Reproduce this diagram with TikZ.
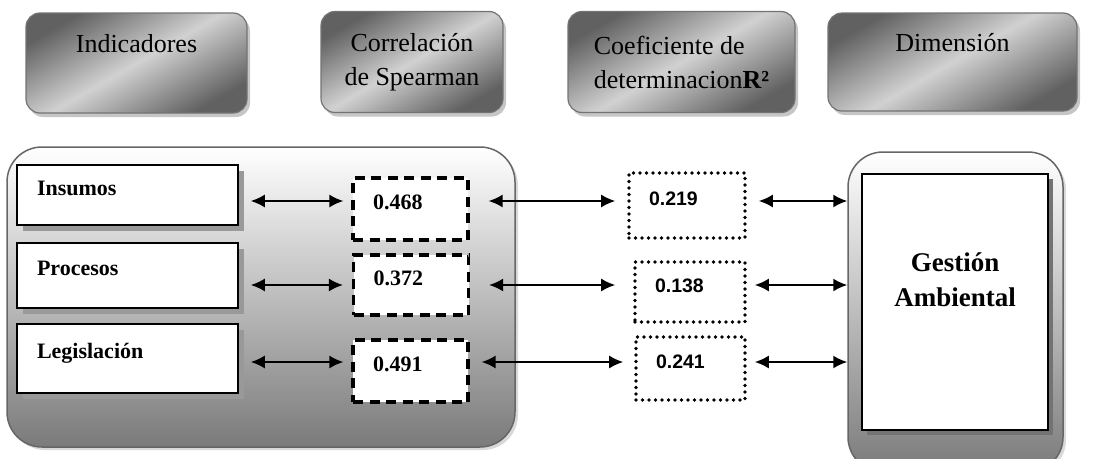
\documentclass[tikz,border=0pt]{standalone}
\usepackage{fontspec}
\setmainfont{Liberation Serif}
\newfontfamily\arialfont{Liberation Sans}
\usetikzlibrary{arrows.meta,shadows}

\begin{document}
\begin{tikzpicture}[x=1pt, y=-1pt,
		titulo/.style={draw=black!55, line width=1.2pt, rounded corners=14pt,
			top color=black!62, bottom color=black!62, middle color=black!18, shading angle=30,
			drop shadow={shadow xshift=3pt, shadow yshift=-4pt, opacity=.45},
			font=\fontsize{26}{34}\selectfont},
		marco/.style={draw=black!60, line width=1.5pt, rounded corners=35pt,
			top color=white, bottom color=black!52,
			drop shadow={shadow xshift=3pt, shadow yshift=-3pt, opacity=.3}},
		indicador/.style={draw, fill=white, line width=1.5pt, minimum width=221pt,
			text width=181pt, inner xsep=20pt, inner ysep=0pt, align=left,
			text height=15pt, text depth=15pt, font=\fontsize{22}{26}\selectfont\bfseries,
			drop shadow={shadow xshift=6pt, shadow yshift=-6pt, fill=black!40, opacity=1}},
		rho/.style={draw, fill=white, line width=3.2pt, dash pattern=on 10pt off 6.5pt,
			minimum width=115pt, text width=75pt, inner xsep=20pt, inner ysep=0pt, align=left,
			text height=15pt, text depth=15pt, font=\fontsize{22}{26}\selectfont\bfseries},
		rcuad/.style={draw, fill=white, line width=3.6pt, line cap=round, dash pattern=on 0pt off 6.5pt,
			inner xsep=20pt, inner ysep=0pt, align=left,
			text height=14pt, text depth=14pt, font=\arialfont\fontsize{19.5}{23}\selectfont\bfseries},
		flecha/.style={<->, >={Latex[length=14pt,width=13pt]}, line width=1.8pt}
	]
	\useasboundingbox (0,0) rectangle (1115,458);
	\clip (0,0) rectangle (1115,458);

	% encabezados
	\node[titulo, minimum width=221pt, minimum height=100pt, text height=20pt, text depth=42pt] (ind) at (136.5,63) {Indicadores};
	\node[titulo, minimum width=182pt, minimum height=101pt, align=center] (cor) at (412,62) {Correlación\\de Spearman};
	\node[titulo, minimum width=227pt, minimum height=101pt, align=left] (coe) at (681.5,62) {Coeficiente de\\determinacion\textbf{R²}};
	\node[titulo, minimum width=249pt, minimum height=98pt, text height=20pt, text depth=42pt] (dim) at (952.5,62) {Dimensión};

	% marcos
	\node[marco, minimum width=508pt, minimum height=300pt] (grupo) at (261,297) {};
	\node[marco, minimum width=215pt, minimum height=320pt] (marcoG) at (955.5,312) {};

	% indicadores
	\node[indicador, minimum height=60pt] (ins) at (127.5,195) {Insumos};
	\node[indicador, minimum height=65pt] (pro) at (127.5,275.5) {Procesos};
	\node[indicador, minimum height=69pt] (leg) at (127.5,358.5) {Legislación};

	% Spearman
	\node[rho, minimum height=62pt] (d1) at (410.5,209) {0.468};
	\node[rho, minimum height=60pt] (d2) at (411,285) {0.372};
	\node[rho, minimum height=62pt] (d3) at (410.5,371) {0.491};

	% R2
	\node[rcuad, minimum width=116pt, minimum height=65pt, text width=76pt] (r1) at (687,205.5) {0.219};
	\node[rcuad, minimum width=110pt, minimum height=60pt, text width=70pt] (r2) at (690,292) {0.138};
	\node[rcuad, minimum width=109pt, minimum height=63pt, text width=69pt] (r3) at (690.5,368.5) {0.241};

	% dimension
	\node[draw, fill=white, line width=1.5pt, minimum width=186pt, minimum height=256pt, align=center,
		font=\fontsize{27}{35}\selectfont\bfseries,
		drop shadow={shadow xshift=5pt, shadow yshift=-5pt, fill=black!55, opacity=1}] (gest) at (955,302) {Gestión\\Ambiental\\[10pt]\mbox{}};

	\coordinate (f1) at (0,201);
	\coordinate (f2) at (0,285);
	\coordinate (f3) at (0,362);

	\path[flecha]
	(ins.east |- f1) edge[shorten <=12pt, shorten >=8pt] (d1.west |- f1)
	(d1.east |- f1) edge[shorten <=19pt, shorten >=12pt] (r1.west |- f1)
	(r1.east |- f1) edge[shorten <=12pt] (marcoG.west |- f1)
	(pro.east |- f2) edge[shorten <=12pt, shorten >=9pt] (d2.west |- f2)
	(d2.east |- f2) edge[shorten <=19pt, shorten >=18pt] (r2.west |- f2)
	(r2.east |- f2) edge[shorten <=8pt] (marcoG.west |- f2)
	(leg.east |- f3) edge[shorten <=12pt, shorten >=8pt] (d3.west |- f3)
	(d3.east |- f3) edge[shorten <=12pt, shorten >=11pt] (r3.west |- f3)
	(r3.east |- f3) edge[shorten <=8pt] (marcoG.west |- f3);
\end{tikzpicture}
\end{document}
